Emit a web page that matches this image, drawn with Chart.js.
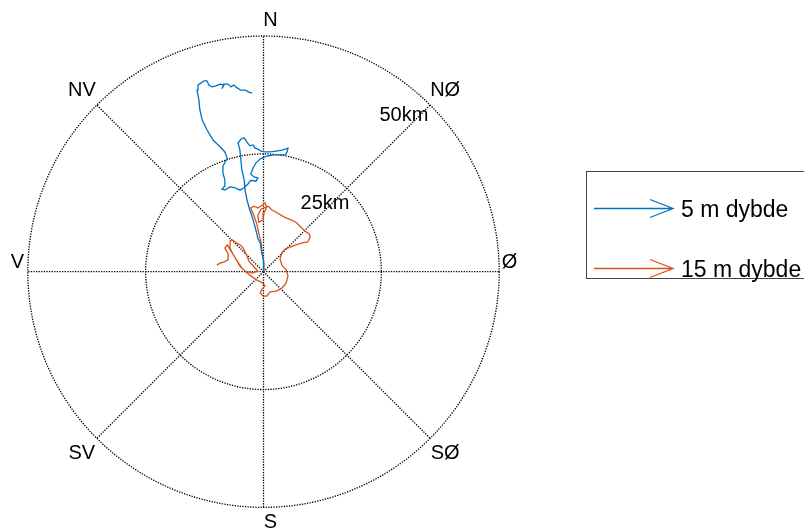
<!DOCTYPE html>
<html>
<head>
<meta charset="utf-8">
<script src="https://cdn.jsdelivr.net/npm/chart.js@4"></script>
<style>
  html, body { margin: 0; padding: 0; background: #fff; }
  #wrap { position: relative; width: 804px; height: 532px; }
</style>
</head>
<body>
<div id="wrap"><canvas id="kart" width="804" height="532"></canvas></div>
<script>
// drift i km, øst (x) og nord (y) fra utsettingspunktet
const east5 = [0, 0.1, -0.1, -0.4, -0.7, -1.2, -1.6, -2.2, -2.9, -3.5, -3.9, -4.1, -4.6, -4.8, -5.0, -5.4, -4.8, -4.1, -3.5, -2.9, -2.2, -1.8, -1.2, -0.5, 0.3, 1.4, 2.7, 3.9, 5.2, 5.0, 4.6, 3.5, 2.2, 1.0, 0.1, -0.7, -1.6, -2.2, -2.7, -2.0, -1.2, -1.6, -2.7, -3.3, -4.1, -5.0, -6.0, -7.1, -8.2, -8.8, -8.2, -8.2, -8.6, -8.6, -7.7, -8.2, -9.2, -10.7, -12.0, -13.0, -13.5, -13.7, -14.1, -13.9, -13.3, -12.6, -12.0, -11.6, -10.9, -10.1, -9.2, -8.4, -8.8, -8.4, -7.5, -6.9, -6.3, -5.6, -4.8, -3.9, -3.1, -2.4];
const north5 = [0, 1.4, 2.5, 4.2, 6.1, 7.1, 8.8, 11.0, 13.1, 15.2, 17.3, 19.5, 21.6, 23.7, 25.8, 27.3, 28.1, 28.4, 27.5, 26.7, 26.9, 26.2, 26.0, 25.6, 25.4, 25.4, 25.6, 25.8, 26.2, 25.4, 24.8, 24.8, 24.8, 24.6, 24.3, 23.9, 23.1, 22.0, 20.7, 20.1, 19.9, 19.2, 19.4, 18.6, 17.8, 17.3, 17.8, 18.0, 17.3, 17.5, 18.2, 19.5, 20.9, 22.4, 24.1, 25.4, 26.5, 27.9, 30.1, 32.2, 34.3, 36.4, 38.5, 39.6, 40.0, 40.5, 40.5, 39.6, 39.2, 39.4, 39.8, 39.6, 38.8, 39.8, 39.8, 39.2, 39.6, 39.0, 38.5, 38.5, 38.1, 37.9];

const east15 = [0, 0.1, -0.3, -0.5, -1.0, -1.4, -2.0, -2.7, -2.0, -1.2, -0.3, 0.3, 0.7, 0.1, -0.1, -1.0, -1.2, -0.5, 1.0, 1.8, 2.7, 3.7, 4.8, 5.8, 6.9, 7.7, 8.8, 9.7, 9.9, 9.4, 8.2, 6.9, 5.6, 4.6, 3.9, 3.5, 3.9, 4.8, 5.2, 4.8, 3.9, 2.7, 1.4, 0.7, -0.1, -0.7, -0.3, 0.3, -0.5, -1.4, -2.4, -3.5, -4.6, -5.6, -6.5, -7.1, -7.1, -6.5, -5.8, -5.0, -4.3, -3.7, -3.1, -2.0, -1.2, -2.4, -3.9, -5.0, -6.0, -6.9, -7.7, -8.2, -7.5, -7.5, -8.4, -9.2, -9.9];
const north15 = [0, 1.8, 4.0, 6.1, 8.2, 10.1, 11.8, 13.5, 13.9, 13.5, 14.1, 14.6, 13.7, 12.5, 11.0, 10.5, 12.0, 13.3, 13.9, 13.1, 12.6, 12.0, 11.4, 11.0, 10.5, 9.7, 8.6, 8.0, 7.4, 6.3, 6.1, 5.7, 5.2, 4.8, 4.0, 2.7, 1.4, 0.4, -0.9, -2.4, -3.5, -4.1, -4.3, -5.2, -5.2, -4.5, -3.7, -3.0, -2.2, -1.8, -1.1, -0.3, 0.8, 2.3, 3.8, 5.0, 6.5, 6.7, 6.1, 5.7, 5.0, 3.8, 2.3, 1.0, 0.1, -0.3, 0.1, 1.2, 2.9, 4.4, 5.7, 5.0, 3.8, 2.5, 2.1, 1.8, 1.4];

const seriesNames = ['5 m dybde', '15 m dybde'];
const directions = ['N', 'NØ', 'Ø', 'SØ', 'S', 'SV', 'V', 'NV'];
const rings = [25, 50];
const ringLabels = ['25km', '50km'];

const blaa = '#0072BD';
const oransje = '#D95319';

function pairs(xs, ys) {
    return xs.map(function(x, i) { return { x: x, y: ys[i] }; });
}

// polar rutenett: sirkler, eker og retningsnavn
const polarGrid = {
    id: 'polarGrid',
    beforeDatasetsDraw(chart) {
        const ctx = chart.ctx;
        const xs = chart.scales.x, ys = chart.scales.y;
        const cx = xs.getPixelForValue(0), cy = ys.getPixelForValue(0);
        const kmPx = xs.getPixelForValue(1) - cx;
        const rMax = rings[rings.length - 1];
        ctx.save();
        ctx.strokeStyle = '#000';
        ctx.lineWidth = 1.3;
        ctx.setLineDash([1.3, 1.3]);
        rings.forEach(function(r) {
            ctx.beginPath();
            ctx.arc(cx, cy, r * kmPx, 0, Math.PI * 2);
            ctx.stroke();
        });
        for (let i = 0; i < 8; i++) {
            const a = i * Math.PI / 4;
            ctx.beginPath();
            ctx.moveTo(cx, cy);
            ctx.lineTo(xs.getPixelForValue(rMax * Math.sin(a)), ys.getPixelForValue(rMax * Math.cos(a)));
            ctx.stroke();
        }
        ctx.setLineDash([]);
        ctx.fillStyle = '#000';
        ctx.font = '20px "Liberation Sans", Arial, sans-serif';
        ctx.textAlign = 'center';
        ctx.textBaseline = 'middle';
        directions.forEach(function(d, i) {
            const a = i * Math.PI / 4;
            let r = 54.5, dx = 0, dy = 0;
            if (i % 4 === 0) { r = 53.2; dx = 7; }
            if (i % 4 === 2) { r = 52.2; dy = -9; }
            ctx.fillText(d, xs.getPixelForValue(r * Math.sin(a)) + dx, ys.getPixelForValue(r * Math.cos(a)) + dy);
        });
        rings.forEach(function(r, i) {
            const a = 42 * Math.PI / 180;
            const rr = r - 5.5;
            ctx.fillText(ringLabels[i], xs.getPixelForValue(rr * Math.sin(a)), ys.getPixelForValue(rr * Math.cos(a)));
        });
        ctx.restore();
    }
};

// forklaring med piler, som i originalen
const arrowLegend = {
    id: 'arrowLegend',
    afterDraw(chart) {
        const ctx = chart.ctx;
        ctx.save();
        ctx.strokeStyle = '#444';
        ctx.lineWidth = 1;
        ctx.strokeRect(586.5, 171.5, 320, 107);
        ctx.font = '23px "Liberation Sans", Arial, sans-serif';
        ctx.textAlign = 'left';
        ctx.textBaseline = 'middle';
        chart.data.datasets.forEach(function(ds, i) {
            const y = 208.5 + i * 60;
            ctx.strokeStyle = ds.borderColor;
            ctx.lineWidth = 1.3;
            ctx.beginPath();
            ctx.moveTo(594, y);
            ctx.lineTo(673, y);
            ctx.moveTo(650, y - 9);
            ctx.lineTo(673, y);
            ctx.lineTo(650, y + 9);
            ctx.stroke();
            ctx.fillStyle = '#000';
            ctx.fillText(ds.label, 681, y + 2);
        });
        ctx.restore();
    }
};

new Chart(document.getElementById('kart'), {
    type: 'scatter',
    data: {
        datasets: [{
            label: seriesNames[0],
            data: pairs(east5, north5),
            borderColor: blaa,
            borderWidth: 1.3,
            showLine: true,
            pointRadius: 0,
            tension: 0
        }, {
            label: seriesNames[1],
            data: pairs(east15, north15),
            borderColor: oransje,
            borderWidth: 1.3,
            showLine: true,
            pointRadius: 0,
            tension: 0
        }]
    },
    options: {
        responsive: false,
        animation: false,
        layout: { padding: { left: 0, top: 8, right: 277, bottom: 0 } },
        plugins: {
            legend: { display: false },
            tooltip: { enabled: false }
        },
        scales: {
            x: { type: 'linear', min: -55.9, max: 55.9, display: false },
            y: { type: 'linear', min: -55.22, max: 55.94, display: false }
        }
    },
    plugins: [polarGrid, arrowLegend]
});
</script>
</body>
</html>
